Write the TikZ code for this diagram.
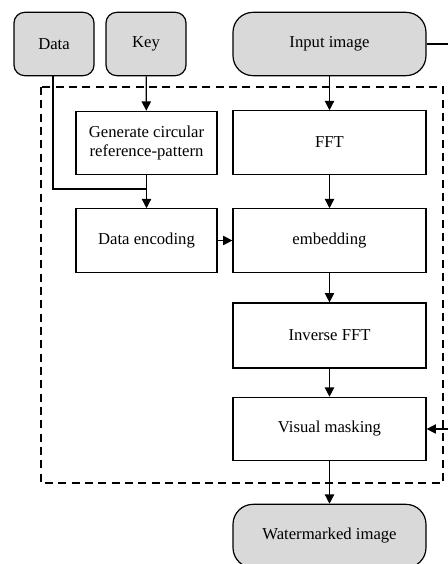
\documentclass[tikz,border=0pt]{standalone}
\usepackage{fontspec}
\setmainfont{Liberation Serif}
\usetikzlibrary{arrows.meta}
\definecolor{boxgray}{HTML}{D9D9D9}
\tikzset{
  px/.style={x=0.75pt,y=-0.75pt},
  proc/.style={draw, line width=0.9pt, minimum height=47.5pt, align=center, inner sep=2pt, font=\fontsize{12.5}{14.5}\selectfont},
  term/.style={proc, fill=boxgray, rounded corners=8pt},
  termbig/.style={proc, fill=boxgray, rounded corners=15pt},
  flow/.style={line width=0.9pt, -{Triangle[length=7pt,width=7pt]}},
  plain/.style={line width=0.9pt},
  frame/.style={line width=0.9pt, dash pattern=on 6pt off 4pt}
}
\begin{document}
\begin{tikzpicture}[px]
\useasboundingbox (0,0) rectangle (448,564);
\clip (0,0) rectangle (448,564);
\node[term, minimum width=60pt] (data) at (54,44) {Data};
\node[term, minimum width=60pt] (key) at (146,44) {Key};
\node[termbig, minimum width=144.75pt] (inp) at (329.5,44) {Input image};
\node[proc, minimum width=105.75pt] (gen) at (146.5,143) {Generate circular\\reference-pattern};
\node[proc, minimum width=144.75pt] (fft) at (329.5,142.5) {FFT};
\node[proc, minimum width=105.75pt] (enc) at (146.5,240.5) {Data encoding};
\node[proc, minimum width=144.75pt] (emb) at (329.5,240.5) {embedding};
\node[proc, minimum width=144.75pt, minimum height=48.75pt] (inv) at (329.5,335.5) {Inverse FFT};
\node[proc, minimum width=144.75pt] (vis) at (329.5,429) {Visual masking};
\node[termbig, minimum width=144.75pt] (wat) at (329.5,536) {Watermarked image};
\draw[frame] (41,87) rectangle (443,483);
\coordinate (dturn) at (53,189);
\coordinate (djoin) at (146,189);
\coordinate (fbtop) at (455,44);
\coordinate (fbbot) at (455,429);
\draw[flow] (key) -- (gen);
\draw[flow] (inp) -- (fft);
\draw[flow] (gen) -- (enc);
\draw[plain] (data.south -| dturn) -- (dturn) -- (djoin);
\draw[flow] (fft) -- (emb);
\draw[flow] (enc) -- (emb);
\draw[flow] (emb) -- (inv);
\draw[flow] (inv) -- (vis);
\draw[flow] (vis) -- (wat);
\draw[plain] (inp.east) -- (fbtop) -- (fbbot);
\draw[flow] (fbbot) -- (vis.east);
\end{tikzpicture}
\end{document}
